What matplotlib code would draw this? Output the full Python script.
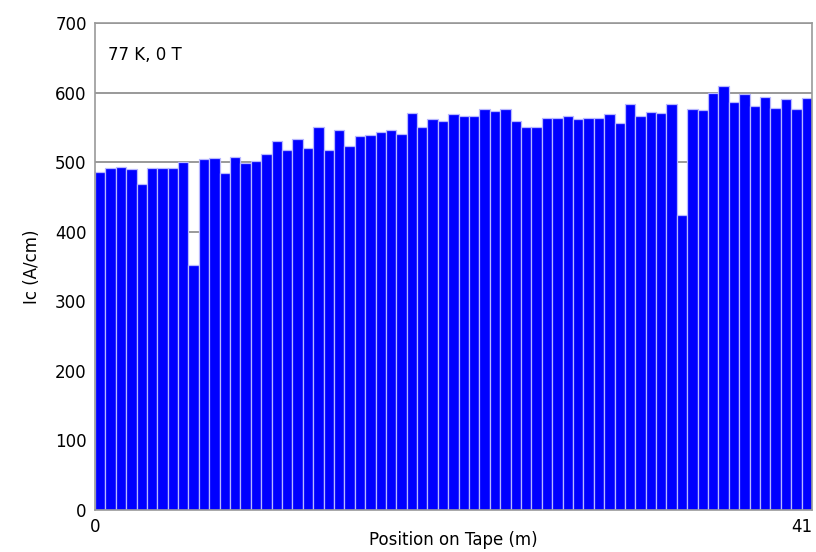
import numpy as np
import matplotlib
matplotlib.use('Agg')
import matplotlib.pyplot as plt

# critical current per tape segment (A/cm)
ic_values = [486, 491, 493, 490, 468, 491, 491, 491, 500, 352,
             505, 506, 485, 508, 499, 502, 512, 531, 518, 534,
             520, 550, 518, 546, 523, 538, 539, 543, 546, 541,
             570, 550, 562, 559, 569, 567, 566, 576, 574, 577,
             559, 550, 550, 563, 564, 567, 562, 563, 563, 569,
             556, 583, 566, 572, 570, 583, 424, 576, 575, 599,
             609, 587, 598, 580, 594, 578, 591, 576, 592]
tape_start = 0
tape_end = 41
y_ticks = [0, 100, 200, 300, 400, 500, 600, 700]

plt.rcParams['font.family'] = ['Liberation Sans Narrow', 'DejaVu Sans']

fig = plt.figure(figsize=(8.16, 5.52), dpi=100)
ax = fig.add_axes([0.1164, 0.0761, 0.8786, 0.8822])

idx = np.arange(len(ic_values))
ax.bar(idx, ic_values, width=1.0, color='#0000ff', edgecolor='#b8b8ff',
       linewidth=0.9, zorder=2)

ax.set_xlim(-0.5, len(ic_values) - 0.5)
ax.set_ylim(0, 700)
ax.set_yticks(y_ticks)
ax.set_yticklabels([str(v) for v in y_ticks], fontsize=12)
ax.set_xticks([-0.5, len(ic_values) - 0.5])
ax.set_xticklabels([str(tape_start), str(tape_end)], fontsize=12)
ax.get_xticklabels()[-1].set_ha('right')
ax.tick_params(length=0, pad=6)
ax.yaxis.grid(True, color='#888888', linewidth=1.2, zorder=0)
ax.set_axisbelow(True)
for s in ax.spines.values():
    s.set_color('#999999')
    s.set_linewidth(1.2)

ax.set_ylabel('Ic\u00a0(A/cm)', fontsize=12, labelpad=10)
ax.set_xlabel('Position on Tape\u00a0(m)', fontsize=12, labelpad=-4)
ax.text(0.018, 0.935, '77 K, 0 T', transform=ax.transAxes, fontsize=12,
        va='center', ha='left')

fig.savefig('out.png', dpi=100)
